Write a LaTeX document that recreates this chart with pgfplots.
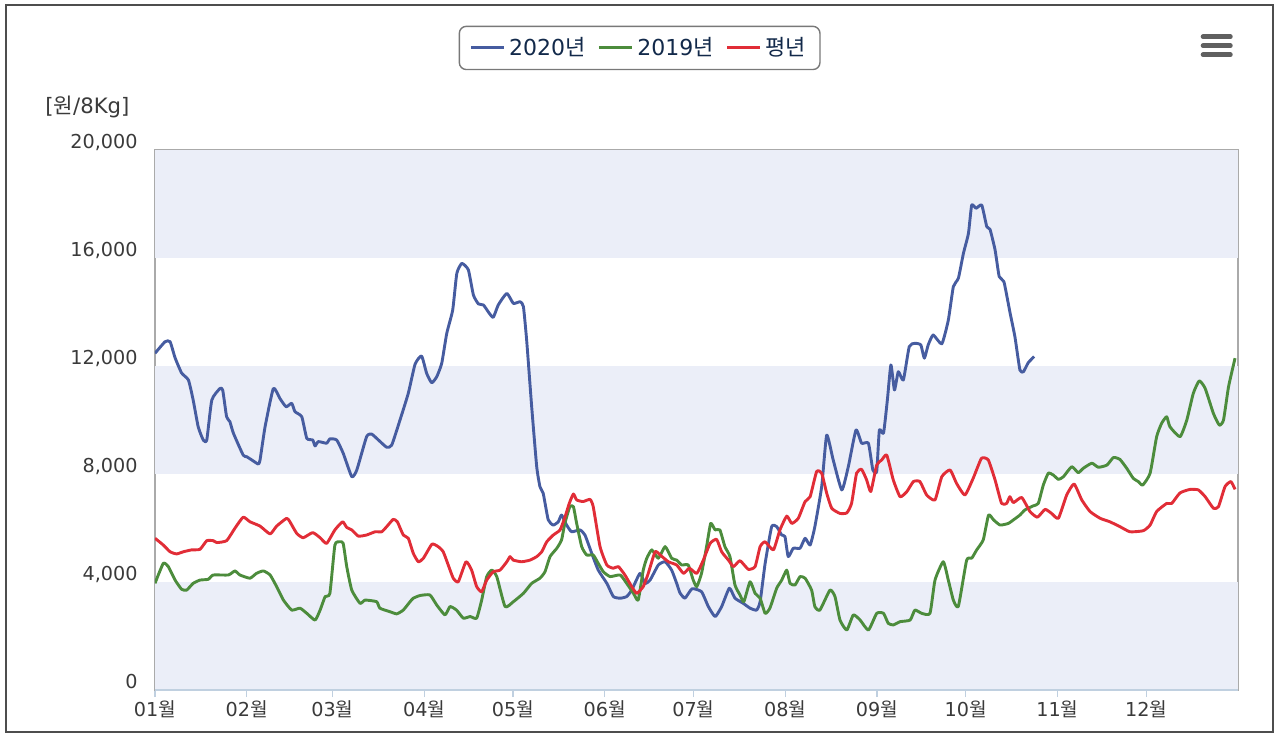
\documentclass[border=0pt]{standalone}
\usepackage{pgfplots}
\pgfplotsset{compat=1.18}
\usepackage{fontspec}
\setmainfont{DejaVu Sans}
\newfontfamily\kr{Noto Sans CJK KR}
\definecolor{band}{HTML}{EBEEF8}
\definecolor{cblue}{HTML}{465CA0}
\definecolor{cgreen}{HTML}{4C8C3C}
\definecolor{cred}{HTML}{E12D37}
\definecolor{ticktext}{HTML}{3A3A3A}
\definecolor{legtext}{HTML}{12294A}
\definecolor{xaxis}{HTML}{C0D0E0}

\begin{document}
\begin{tikzpicture}
\path (0,0) rectangle (640pt,370pt);
\draw[draw={rgb,255:red,77;green,77;blue,77}, line width=1pt] (2.75pt,4pt) rectangle (636.5pt,367.25pt);
% menu icon
\foreach \yy in {351.6pt,347.1pt,342.6pt}{
  \draw[line width=2.3pt, line cap=round, draw={rgb,255:red,96;green,96;blue,96}] (601.5pt,\yy) -- (615.2pt,\yy);
}
\node[anchor=west, inner sep=0pt, font=\fontsize{10.6}{12}\selectfont, text=ticktext] at (22.5pt,316.5pt) {[{\kr 원}/8Kg]};

\begin{axis}[
  at={(77.5pt,25pt)}, anchor=south west,
  scale only axis, width=541.5pt, height=270pt,
  xmin=0, xmax=366, ymin=0, ymax=20000,
  axis line style={draw={rgb,255:red,170;green,170;blue,170}, line width=0.6pt},
  xtick={0,31,60,91,121,152,182,213,244,274,305,335},
  xticklabels={01{\kr 월},02{\kr 월},03{\kr 월},04{\kr 월},05{\kr 월},06{\kr 월},07{\kr 월},08{\kr 월},09{\kr 월},10{\kr 월},11{\kr 월},12{\kr 월}},
  x tick style={draw=xaxis, line width=0.6pt},
  tick align=outside, major tick length=3.5pt,
  xtick pos=bottom, ytick pos=left,
  ytick={0,4000,8000,12000,16000,20000},
  y tick style={draw=none},
  scaled y ticks=false,
  /pgf/number format/.cd, fixed, 1000 sep={,}, assume math mode=true, /pgfplots/.cd,
  yticklabel style={anchor=east, inner sep=0pt, xshift=-5pt, yshift=4pt, font=\fontsize{9.6}{11}\selectfont, text=ticktext},
  xticklabel style={anchor=north, inner sep=0pt, yshift=-1.5pt, font=\fontsize{9.6}{11}\selectfont, text=ticktext},
  legend style={at={(0.4475,1.189)}, anchor=center, draw={rgb,255:red,120;green,120;blue,120}, line width=0.7pt, rounded corners=3.5pt,
    font=\fontsize{11}{13}\selectfont, text=legtext, inner xsep=5pt, inner ysep=3.5pt,
    /tikz/every even column/.append style={column sep=4pt}},
  legend columns=3,
  legend image code/.code={\draw[#1, line width=1.4pt] (0pt,0pt) -- (15pt,0pt); \path (0pt,0pt) -- (16.5pt,0pt);},
  every axis plot/.append style={line width=1.45pt, smooth, tension=0.3, line join=round},
]
\fill[band] (axis cs:0,0) rectangle (axis cs:366,4000);
\fill[band] (axis cs:0,8000) rectangle (axis cs:366,12000);
\fill[band] (axis cs:0,16000) rectangle (axis cs:366,20000);

\addplot[cblue] coordinates {
(0,12470)(3.4,12900)(5.1,12900)(6.8,12300)(9.0,11740)(11.3,11480)(12.9,10740)(14.6,9750)(16.3,9260)(17.5,9260)
(19.2,10740)(22.0,11170)(22.9,11100)(24.2,10120)(25.3,9940)(26.5,9510)(29.8,8700)(31.0,8640)(32.7,8520)(34.9,8370)
(35.5,8520)(37.2,9750)(40.0,11170)(42.2,10800)(44.3,10490)(46.2,10620)(47.3,10310)(49.6,10120)(51.3,9320)(53.3,9260)
(54.1,9040)(55.2,9200)(58.0,9140)(59.1,9300)(61.4,9260)(63.6,8770)(66.5,7900)(68.2,8150)(71.5,9380)(73.2,9480)
(75.5,9260)(78.3,8990)(80.0,9070)(82.8,10000)(85.6,10990)(87.9,12070)(90.1,12370)(91.8,11730)(93.5,11380)(95.2,11600)
(96.9,12100)(98.6,13210)(100.6,14070)(102.0,15430)(103.7,15800)(105.9,15560)(107.6,14630)(109.3,14300)(111.0,14260)
(112.6,14010)(114.3,13800)(116.0,14260)(118.9,14690)(121.1,14320)(123.4,14380)(124.5,14200)(125.6,12960)(127.3,10490)
(129.0,8270)(130.1,7530)(131.2,7280)(132.9,6300)(134.6,6110)(136.3,6230)(137.4,6480)(139.1,6110)(140.8,5860)(143.6,5930)
(145.3,5740)(147.6,5060)(149.8,4440)(152.7,3950)(154.9,3460)(157.2,3400)(159.4,3460)(161.1,3700)(163.9,4320)(165.6,3950)
(167.3,4070)(170.1,4630)(172.4,4750)(174.6,4440)(176.3,3950)(177.4,3600)(179.1,3400)(181.5,3750)(184.7,3640)(187.0,3090)
(189.3,2720)(191.5,3090)(194.1,3770)(196.0,3400)(198.8,3210)(201.1,3030)(203.3,2960)(204.5,3270)(206.2,4690)(208.4,6050)
(210.1,6050)(211.8,5740)(212.9,5680)(214.0,4940)(215.7,5250)(218.0,5250)(219.7,5620)(221.4,5370)(223.0,6050)(225.3,7530)
(227.0,9440)(229.2,8520)(232.1,7410)(234.3,8270)(236.9,9630)(238.8,9140)(241.1,9140)(242.6,8150)(243.9,8090)(244.8,9630)
(246.2,9510)(247.5,10740)(248.7,12040)(249.9,11110)(251.2,11790)(252.9,11480)(254.9,12720)(256.8,12840)(258.8,12780)
(260.0,12290)(261.3,12780)(263.0,13150)(265.9,12820)(268.1,13700)(269.8,14940)(271.5,15250)(273.2,16170)(274.9,16910)
(276.0,17960)(277.5,17840)(279.4,17960)(281.1,17160)(282.2,17060)(283.9,16300)(285.3,15310)(286.9,15120)(289.0,13950)
(290.6,13090)(292.3,11850)(293.5,11790)(295.1,12120)(297.1,12350)
};
\addlegendentry{2020{\kr 년}}

\addplot[cgreen] coordinates {
(0,3950)(2.8,4690)(4.5,4570)(6.8,4070)(9.0,3730)(10.7,3700)(12.9,3950)(15.2,4070)(18.0,4100)(19.7,4260)(24.8,4260)
(27.0,4410)(28.7,4260)(32.1,4140)(34.3,4320)(36.6,4410)(38.9,4260)(41.1,3830)(43.4,3330)(46.2,2960)(49.0,3030)(51.3,2840)
(54.1,2590)(55.8,2960)(57.5,3460)(59.1,3580)(60.8,5370)(62.5,5490)(63.6,5430)(64.8,4570)(66.5,3700)(69.3,3210)(71.0,3330)
(74.9,3270)(76.0,3030)(79.4,2900)(81.7,2820)(83.9,2960)(86.2,3270)(87.3,3400)(89.6,3500)(92.9,3520)(95.2,3150)(98.0,2780)
(99.7,3090)(101.9,2960)(104.2,2660)(106.5,2720)(108.7,2660)(110.4,3330)(112.1,4200)(113.8,4440)(115.5,4200)(118.3,3090)
(121.1,3270)(124.5,3580)(127.3,3950)(130.1,4140)(131.8,4380)(133.5,4940)(135.8,5250)(137.4,5560)(138.5,6170)(140.2,6790)
(141.4,6790)(142.5,6170)(144.2,5310)(145.9,5000)(148.1,5000)(149.8,4690)(151.5,4380)(153.8,4200)(157.2,4260)(159.4,3950)
(161.7,3580)(163.3,3330)(165.0,4440)(166.2,4880)(167.9,5190)(170.1,4880)(172.4,5310)(174.6,4880)(176.3,4810)(178.0,4630)
(180.2,4630)(181.9,4070)(183.1,3830)(184.7,4320)(186.4,5310)(187.8,6170)(189.3,5930)(190.9,5930)(192.6,5310)(194.3,4940)
(196.0,3890)(197.7,3520)(199.0,3270)(201.1,4010)(202.8,3580)(204.5,3400)(206.2,2840)(207.8,3030)(210.1,3770)(211.8,4070)
(213.5,4440)(214.6,3950)(216.3,3890)(218.0,4200)(219.7,4140)(221.9,3700)(223.0,3090)(224.7,2960)(228.1,3700)(229.8,3460)
(231.5,2590)(233.8,2220)(236.0,2780)(238.3,2590)(241.1,2220)(243.9,2840)(246.2,2840)(247.8,2470)(249.5,2410)(251.8,2530)
(255.2,2590)(256.8,2960)(259.1,2840)(261.9,2840)(263.6,4070)(266.4,4750)(268.1,4070)(269.8,3330)(271.5,3100)(274.3,4810)
(276.0,4880)(277.7,5190)(279.9,5560)(281.7,6480)(283.4,6300)(285.6,6110)(288.4,6170)(290.1,6300)(292.3,6480)(294.0,6670)
(296.8,6820)(298.5,6910)(300.2,7590)(301.9,8030)(303.6,7960)(305.3,7800)(307.0,7900)(309.8,8270)(312.0,8050)(313.7,8210)
(316.6,8400)(318.8,8250)(321.7,8330)(323.9,8610)(326.1,8540)(328.4,8210)(330.6,7840)(332.3,7720)(333.8,7590)(336.3,8030)
(338.5,9380)(340.2,9880)(341.9,10120)(343.0,9750)(346.4,9380)(348.7,10000)(350.9,10990)(352.9,11450)(354.9,11170)
(357.7,10240)(359.7,9810)(361.1,10000)(362.8,11230)(365.0,12290)
};
\addlegendentry{2019{\kr 년}}

\addplot[cred] coordinates {
(0,5620)(2.8,5370)(5.1,5120)(7.3,5040)(9.6,5120)(12.4,5190)(15.2,5210)(17.5,5530)(19.7,5530)(20.9,5460)(24.2,5530)
(27.0,5990)(29.8,6400)(32.1,6230)(35.5,6070)(38.9,5780)(41.1,6070)(44.5,6360)(45.6,6230)(47.9,5800)(50.1,5640)(53.3,5830)
(55.8,5640)(58.0,5430)(60.8,5930)(63.4,6230)(64.8,6020)(66.5,5930)(68.7,5700)(71.5,5740)(74.4,5860)(76.6,5860)(78.3,6050)
(80.5,6320)(81.9,6230)(83.9,5740)(85.6,5620)(87.3,5060)(89.0,4750)(90.7,4880)(93.6,5400)(95.7,5310)(97.4,5120)(99.1,4630)
(100.8,4140)(102.5,4010)(105.1,4750)(107.0,4440)(108.7,3830)(110.4,3640)(112.1,4070)(114.3,4380)(116.6,4440)(118.9,4750)
(120.0,4940)(121.1,4810)(123.9,4750)(126.7,4810)(129.0,4940)(130.7,5120)(132.4,5490)(134.6,5740)(136.9,5930)(138.6,6420)
(140.0,6910)(141.4,7260)(142.5,7040)(144.7,6980)(147.0,7060)(148.1,6790)(150.4,5310)(152.7,4630)(154.9,4510)(156.6,4570)
(158.8,4260)(161.1,3830)(162.8,3580)(165.0,3830)(166.7,4320)(169.0,5120)(170.7,5000)(173.5,4750)(176.3,4630)(178.6,4320)
(180.6,4510)(183.1,4320)(185.3,4810)(187.6,5430)(189.8,5580)(191.5,5120)(193.8,4810)(195.5,4570)(197.7,4790)(200.5,4470)
(202.8,4570)(204.5,5310)(206.2,5490)(209.0,5190)(211.2,5930)(213.5,6440)(215.2,6170)(217.4,6360)(219.7,6980)(221.4,7160)
(223.6,8090)(225.3,8030)(227.0,7290)(228.7,6730)(231.5,6540)(233.8,6560)(235.4,6910)(237.1,8030)(238.8,8170)(240.5,7780)
(241.9,7350)(243.9,8330)(245.6,8520)(247.3,8700)(249.5,7780)(251.8,7160)(254.1,7350)(256.3,7720)(258.5,7720)(260.8,7220)
(263.6,7040)(265.9,7900)(268.7,8150)(270.9,7650)(273.7,7220)(276.5,7840)(279.3,8580)(281.6,8520)(283.9,7780)(286.1,6910)
(287.8,6910)(288.9,7160)(290.1,6940)(292.9,7130)(295.7,6610)(298.2,6400)(300.8,6690)(303.0,6540)(305.3,6360)(308.1,7220)
(310.6,7630)(313.2,7040)(316.0,6610)(319.4,6360)(322.7,6230)(326.1,6050)(329.5,5860)(334.0,5900)(336.3,6110)(338.5,6610)
(341.9,6910)(343.6,6910)(346.4,7300)(349.8,7430)(352.6,7410)(354.9,7160)(357.7,6730)(359.4,6790)(361.6,7530)(363.6,7720)
(365.0,7430)
};
\addlegendentry{{\kr 평년}}

\draw[xaxis, line width=0.8pt] (rel axis cs:0,0) -- (rel axis cs:1,0);
\end{axis}
\end{tikzpicture}
\end{document}
